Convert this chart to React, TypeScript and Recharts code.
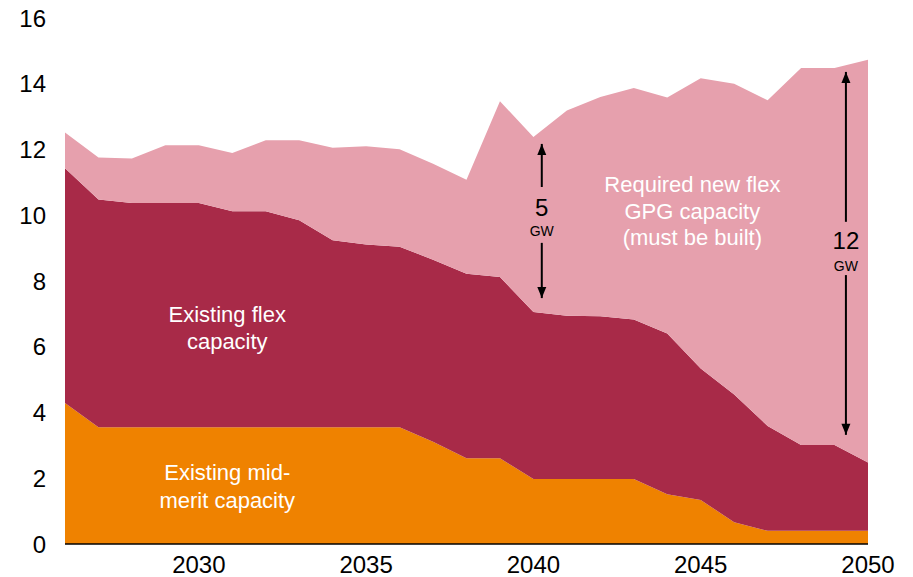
import { AreaChart, Area, XAxis, YAxis, ReferenceLine, ReferenceDot } from 'recharts';

const years = [2026, 2027, 2028, 2029, 2030, 2031, 2032, 2033, 2034, 2035, 2036, 2037, 2038, 2039, 2040, 2041, 2042, 2043, 2044, 2045, 2046, 2047, 2048, 2049, 2050];
const midMerit = [4.29, 3.55, 3.55, 3.55, 3.55, 3.55, 3.55, 3.55, 3.55, 3.55, 3.55, 3.11, 2.61, 2.61, 1.98, 1.98, 1.98, 1.98, 1.51, 1.34, 0.66, 0.4, 0.4, 0.4, 0.4];
const existingFlex = [7.14, 6.93, 6.82, 6.82, 6.82, 6.57, 6.57, 6.3, 5.69, 5.56, 5.49, 5.54, 5.61, 5.51, 5.08, 4.96, 4.95, 4.85, 4.89, 4.0, 3.89, 3.19, 2.61, 2.61, 2.08];
const newFlex = [1.09, 1.28, 1.36, 1.76, 1.76, 1.77, 2.16, 2.43, 2.81, 2.99, 2.97, 2.92, 2.86, 5.35, 5.32, 6.25, 6.67, 7.04, 7.18, 8.83, 9.45, 9.91, 11.47, 11.47, 12.25];

const xTicks = [2030, 2035, 2040, 2045, 2050];
const yTicks = [0, 2, 4, 6, 8, 10, 12, 14, 16];

const data = years.map((year, i) => ({
  year,
  mid: midMerit[i],
  flex: existingFlex[i],
  newFlex: newFlex[i],
}));

const FONT = '"Liberation Sans", Arial, sans-serif';

// area labels: [x, y, text, size, color]
const labels: [number, number, string, number, string][] = [
  [2030.85, 7.0, 'Existing flex', 22, '#fff'],
  [2030.85, 6.18, 'capacity', 22, '#fff'],
  [2030.85, 2.18, 'Existing mid-', 22, '#fff'],
  [2030.85, 1.35, 'merit capacity', 22, '#fff'],
  [2044.75, 10.95, 'Required new flex', 22, '#fff'],
  [2044.75, 10.13, 'GPG capacity', 22, '#fff'],
  [2044.75, 9.33, '(must be built)', 22, '#fff'],
  [2040.25, 10.25, '5', 24, '#000'],
  [2040.25, 9.52, 'GW', 14, '#000'],
  [2049.34, 9.25, '12', 24, '#000'],
  [2049.34, 8.47, 'GW', 14, '#000'],
];

// arrow segments: [x, yFrom, yTo (tip)]
const arrows: [number, number, number][] = [
  [2040.25, 10.86, 12.17],
  [2040.25, 9.16, 7.48],
  [2049.34, 9.8, 14.36],
  [2049.34, 8.18, 3.32],
];

const textShape = (text: string, size: number, color: string) => (p: any) => (
  <text x={p.cx} y={p.cy} dy="0.36em" textAnchor="middle" fontSize={size} fill={color} fontFamily={FONT}>
    {text}
  </text>
);

const headShape = (up: boolean) => (p: any) => {
  const { cx, cy } = p;
  const d = up ? 11 : -11;
  return <polygon points={`${cx},${cy} ${cx - 4.5},${cy + d} ${cx + 4.5},${cy + d}`} fill="#000" />;
};

export default function App() {
  return (
    <div style={{ position: 'absolute', left: 0, top: 0 }}>
      <AreaChart width={913} height={577} data={data} margin={{ top: 18, right: 45, left: 0, bottom: 0 }}>
        <XAxis
          dataKey="year"
          type="number"
          domain={[2026, 2050]}
          ticks={xTicks}
          tickLine={false}
          tickSize={0}
          tickMargin={12}
          height={33}
          axisLine={{ stroke: '#000', strokeWidth: 1.5 }}
          tick={{ fill: '#000', fontSize: 24, fontFamily: FONT }}
        />
        <YAxis
          domain={[0, 16]}
          ticks={yTicks}
          width={65}
          tickLine={false}
          axisLine={false}
          tickSize={0}
          tickMargin={19}
          tick={{ fill: '#000', fontSize: 24, fontFamily: FONT }}
        />
        <Area type="linear" dataKey="mid" stackId="a" stroke="none" fill="#EF8200" fillOpacity={1} isAnimationActive={false} />
        <Area type="linear" dataKey="flex" stackId="a" stroke="none" fill="#A82A48" fillOpacity={1} isAnimationActive={false} />
        <Area type="linear" dataKey="newFlex" stackId="a" stroke="none" fill="#E6A0AD" fillOpacity={1} isAnimationActive={false} />
        {arrows.map(([x, y1, y2], i) => (
          <ReferenceLine
            key={`l${i}`}
            segment={[{ x, y: y1 }, { x, y: y2 }]}
            stroke="#000"
            strokeWidth={2}
          />
        ))}
        {arrows.map(([x, y1, y2], i) => (
          <ReferenceDot key={`h${i}`} x={x} y={y2} r={0} shape={headShape(y2 > y1)} />
        ))}
        {labels.map(([x, y, text, size, color], i) => (
          <ReferenceDot key={`t${i}`} x={x} y={y} r={0} shape={textShape(text, size, color)} />
        ))}
      </AreaChart>
    </div>
  );
}
